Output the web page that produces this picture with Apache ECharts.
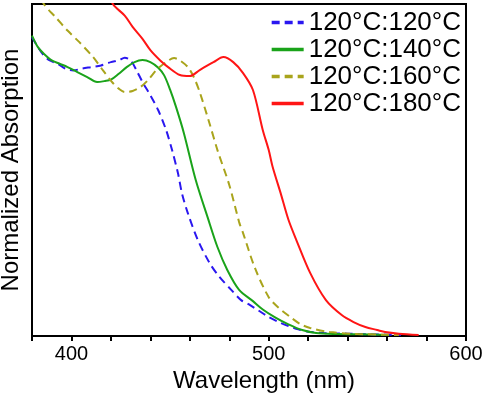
<!DOCTYPE html>
<html>
<head>
<meta charset="utf-8">
<script src="https://cdn.jsdelivr.net/npm/echarts@6/dist/echarts.min.js"></script>
<style>
html,body{margin:0;padding:0;background:#fff;}
#chart{width:484px;height:393px;}
</style>
</head>
<body>
<div id="chart"></div>
<script>
// wavelength (nm) and normalized absorption
var names = ['120°C:120°C', '120°C:140°C', '120°C:160°C', '120°C:180°C']
var colors = ['#2a17f0', '#1aa31a', '#a9a41c', '#ff1515']

var wl120 = [380,383,386,389,393,397,401,405,410,415,420,424,427,430,433,436,440,444,448,451,454,456,459,464,470,475,481,486,490,495,500,505,510,515,520,528,540,550,560,567]
var ab120 = [0.90,0.87,0.845,0.83,0.82,0.805,0.80,0.805,0.81,0.815,0.825,0.83,0.838,0.83,0.80,0.765,0.725,0.68,0.62,0.56,0.49,0.43,0.37,0.29,0.22,0.178,0.139,0.108,0.095,0.076,0.057,0.042,0.03,0.02,0.013,0.009,0.007,0.005,0.004,0.003]

var wl140 = [380,383,386,390,394,398,403,408,413,417,420,424,428,432,436,440,444,447,450,453,457,463,469,474,479,485,492,497,503,510,517,524,535,545,561]
var ab140 = [0.905,0.87,0.85,0.83,0.82,0.81,0.795,0.78,0.765,0.768,0.772,0.79,0.81,0.825,0.831,0.825,0.808,0.785,0.742,0.69,0.611,0.47,0.358,0.268,0.199,0.139,0.105,0.08,0.057,0.035,0.018,0.009,0.006,0.005,0.003]

var wl160 = [382,386,392,398,404,411,416,421,424,427,431,435,439,443,448,452,455,459,462,465,470,474,480,485,487,493,500,505,511,516,521,531,545,566]
var ab160 = [1.05,1.0,0.96,0.92,0.885,0.84,0.80,0.762,0.745,0.735,0.738,0.75,0.772,0.801,0.825,0.837,0.83,0.81,0.78,0.735,0.64,0.56,0.455,0.343,0.31,0.205,0.117,0.085,0.057,0.036,0.024,0.012,0.006,0.003]

var wl180 = [417,421,427,431,436,440,445,449,455,460,465,469,472,477,482,487,492,497,500,502,506,510,514,521,529,537,543,549,555,559,566,576]
var ab180 = [1.06,1.0,0.965,0.931,0.895,0.861,0.83,0.81,0.786,0.783,0.801,0.815,0.825,0.84,0.825,0.792,0.741,0.62,0.56,0.509,0.431,0.35,0.289,0.19,0.108,0.063,0.042,0.027,0.018,0.012,0.007,0.003]

var xTicks = [400, 500, 600]

function zip(a, b) {
  var out = []
  for (var i = 0; i < a.length; i++) out.push([a[i], b[i]])
  return out
}

var allWl = [wl120, wl140, wl160, wl180]
var allAb = [ab120, ab140, ab160, ab180]
var dashed = [true, false, true, false]

var series = []
for (var i = 0; i < names.length; i++) {
  series.push({
    name: names[i],
    type: 'line',
    data: zip(allWl[i], allAb[i]),
    smooth: 0.3,
    symbol: 'none',
    clip: true,
    lineStyle: {
      color: colors[i],
      width: 2,
      type: dashed[i] ? [8, 5] : 'solid'
    },
    itemStyle: { color: colors[i] }
  })
}

var font = '"Liberation Sans", Arial, sans-serif'
var chart = echarts.init(document.getElementById('chart'), null, { renderer: 'canvas' })
chart.setOption({
  animation: false,
  textStyle: { fontFamily: font },
  grid: {
    left: 32, right: 18, top: 4, bottom: 57,
    outerBoundsMode: 'none',
    containLabel: false,
    show: true, borderColor: '#000', borderWidth: 2
  },
  legend: {
    orient: 'vertical',
    right: 23,
    top: 9,
    padding: 0,
    itemGap: 0,
    itemWidth: 32,
    itemHeight: 4,
    lineStyle: { width: 3.5 },
    textStyle: { fontSize: 26, lineHeight: 27, color: '#000', fontFamily: font },
    data: names
  },
  xAxis: {
    type: 'value',
    min: 380,
    max: 600,
    interval: 20,
    name: 'Wavelength (nm)',
    nameLocation: 'middle',
    nameGap: 32,
    nameTextStyle: { fontSize: 24, color: '#000', fontFamily: font, padding: [0, 0, 0, 30] },
    axisLine: { lineStyle: { color: '#000', width: 2 } },
    axisTick: { length: 5, lineStyle: { color: '#000', width: 2 } },
    axisLabel: {
      fontSize: 20, color: '#000', fontFamily: font, margin: 8,
      formatter: function (v) { return xTicks.indexOf(v) >= 0 ? String(v) : '' }
    },
    splitLine: { show: false }
  },
  yAxis: {
    type: 'value',
    min: 0,
    max: 1,
    name: 'Normalized Absorption',
    nameLocation: 'middle',
    nameGap: 9,
    nameTextStyle: { fontSize: 24, color: '#000', fontFamily: font },
    axisLine: { show: true, lineStyle: { color: '#000', width: 2 } },
    axisTick: { show: false },
    axisLabel: { show: false },
    splitLine: { show: false }
  },
  series: series
})
</script>
</body>
</html>
